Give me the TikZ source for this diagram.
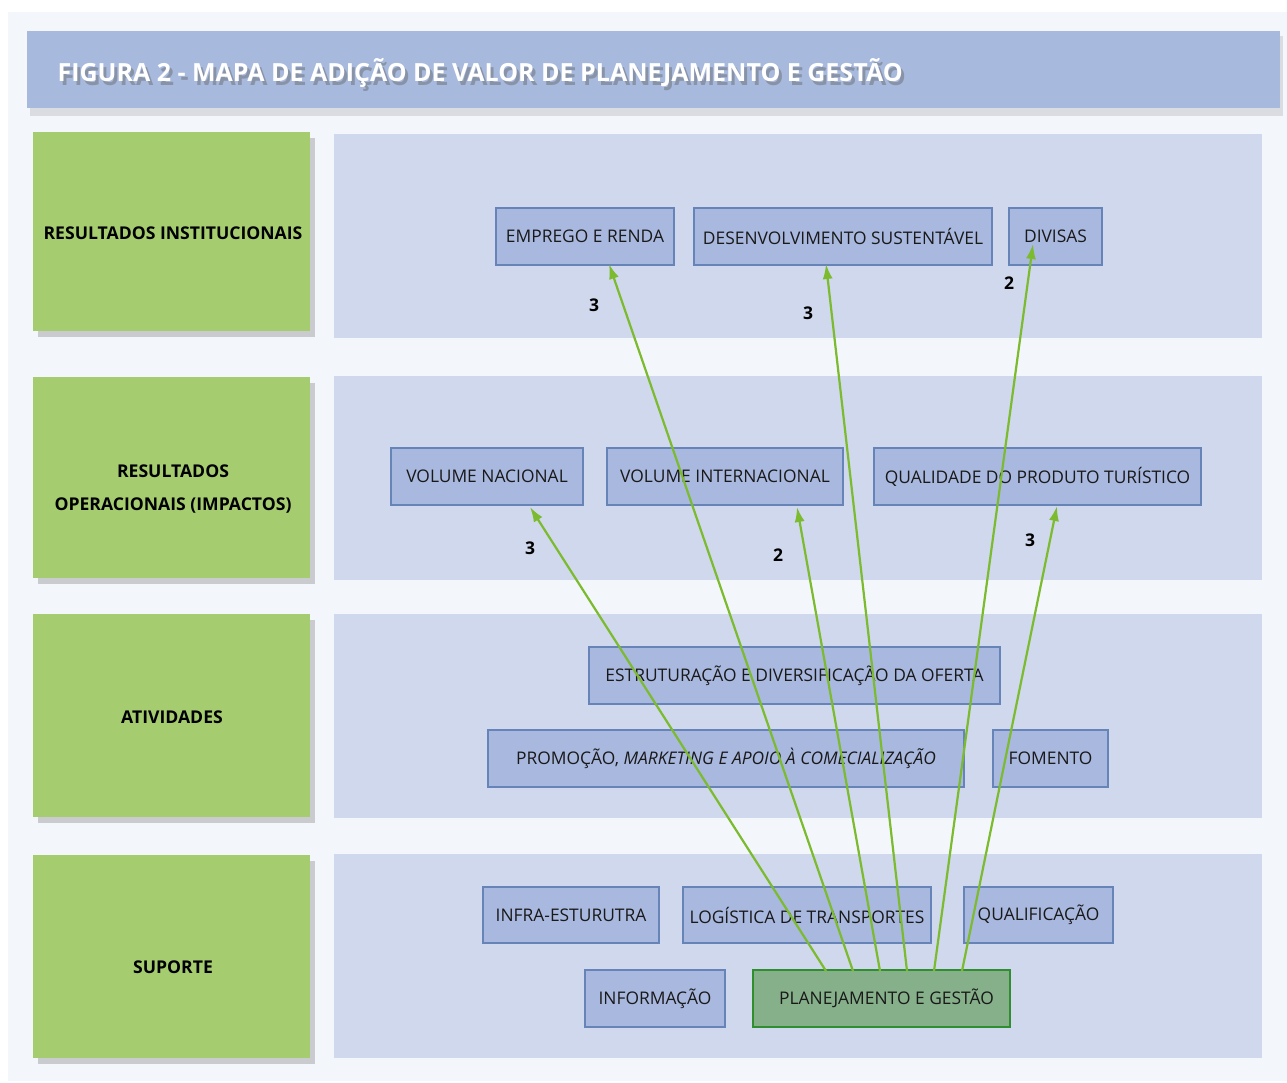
\documentclass[tikz,border=0pt]{standalone}
\usepackage{fontspec}
\setmainfont{Open Sans}
\usetikzlibrary{arrows.meta,shadows}
\definecolor{pagebg}{HTML}{F3F6FB}
\definecolor{headbg}{HTML}{A7B9DD}
\definecolor{greenbox}{HTML}{A6CC70}
\definecolor{panelbg}{HTML}{CFD8EC}
\definecolor{nodefill}{HTML}{A9B8DF}
\definecolor{nodeedge}{HTML}{6784B8}
\definecolor{planfill}{HTML}{86B08A}
\definecolor{planedge}{HTML}{2F8F2F}
\definecolor{arrowgreen}{HTML}{7CBB2E}
\tikzset{
  catbox/.style={fill=greenbox, draw=none, drop shadow={shadow xshift=5pt, shadow yshift=-6pt, opacity=0.25, fill=black!70}},
  itembox/.style={draw=nodeedge, line width=1.6pt, fill=nodefill, inner sep=0pt, font=\fontsize{17.4}{20}\selectfont, text=black!90},
  planbox/.style={itembox, draw=planedge, fill=planfill},
  catlabel/.style={font=\bfseries\fontsize{17.6}{33}\selectfont, align=center, text=black},
  numlabel/.style={font=\bfseries\fontsize{17.5}{20}\selectfont, text=black},
  link/.style={draw=arrowgreen, line width=2.2pt, -{Latex[length=15pt,width=10pt]}}
}
\begin{document}
\begin{tikzpicture}[x=1pt,y=-1pt]
\useasboundingbox (0,0) rectangle (1287,1083);
\fill[white] (0,0) rectangle (1287,1083);
\fill[pagebg] (8,12) rectangle (1287,1081);
% header
\fill[black, opacity=0.10] (30,36) rectangle (1283,116);
\fill[headbg] (27,31) rectangle (1280,108);
\node[anchor=base west, text=black!60, opacity=0.45, font=\bfseries\fontsize{25}{28}\selectfont] (titleshadow) at (57,86) {FIGURA 2 - MAPA DE ADIÇÃO DE VALOR DE PLANEJAMENTO E GESTÃO};
\node[anchor=base west, text=white, font=\bfseries\fontsize{25}{28}\selectfont] (title) at (54,82) {FIGURA 2 - MAPA DE ADIÇÃO DE VALOR DE PLANEJAMENTO E GESTÃO};
% category boxes
\path[catbox] (33,132) rectangle (310,331);
\path[catbox] (33,377) rectangle (310,578);
\path[catbox] (33,614) rectangle (310,817);
\path[catbox] (33,855) rectangle (310,1058);
\node[catlabel] (c1) at (173,233) {RESULTADOS INSTITUCIONAIS};
\node[catlabel] (c2) at (173,489) {RESULTADOS\\OPERACIONAIS (IMPACTOS)};
\node[catlabel] (c3) at (172,717) {ATIVIDADES};
\node[catlabel] (c4) at (173,967) {SUPORTE};
% panels
\fill[panelbg] (334,134) rectangle (1262,338);
\fill[panelbg] (334,376) rectangle (1262,580);
\fill[panelbg] (334,614) rectangle (1262,818);
\fill[panelbg] (334,854) rectangle (1262,1058);
% row 1
\node[itembox, minimum width=178pt, minimum height=57pt] (emp) at (585,236.5) {EMPREGO E RENDA};
\node[itembox, minimum width=298pt, minimum height=57pt] (des) at (843,236.5) {DESENVOLVIMENTO SUSTENTÁVEL};
\node[itembox, minimum width=93pt, minimum height=57pt] (div) at (1055.5,236.5) {DIVISAS};
% row 2
\node[itembox, minimum width=192pt, minimum height=57pt] (vn) at (487,476.5) {VOLUME NACIONAL};
\node[itembox, minimum width=236pt, minimum height=57pt] (vi) at (725,476.5) {VOLUME INTERNACIONAL};
\node[itembox, minimum width=327pt, minimum height=57pt] (qp) at (1037.5,476.5) {QUALIDADE DO PRODUTO TURÍSTICO};
% row 3
\node[itembox, minimum width=411pt, minimum height=57pt] (est) at (794.5,675.5) {ESTRUTURAÇÃO E DIVERSIFICAÇÃO DA OFERTA};
\node[itembox, minimum width=476pt, minimum height=57pt] (pro) at (726,758.5) {PROMOÇÃO, \textit{MARKETING E APOIO À COMECIALIZAÇÃO}};
\node[itembox, minimum width=115pt, minimum height=57pt] (fom) at (1050.5,758.5) {FOMENTO};
% row 4
\node[itembox, minimum width=176pt, minimum height=56pt] (inf) at (571,915) {INFRA-ESTURUTRA};
\node[itembox, minimum width=248pt, minimum height=56pt] (log) at (807,915) {LOGÍSTICA DE TRANSPORTES};
\node[itembox, minimum width=149pt, minimum height=56pt] (qua) at (1038.5,915) {QUALIFICAÇÃO};
\node[itembox, minimum width=140pt, minimum height=57pt] (info) at (655,998.5) {INFORMAÇÃO};
\node[planbox, minimum width=257pt, minimum height=57pt] (plan) at (881.5,998.5) {\hspace*{10pt}PLANEJAMENTO E GESTÃO};
% arrow ends
\coordinate (s1) at (826,971);
\coordinate (s2) at (853,971);
\coordinate (s3) at (880,971);
\coordinate (s4) at (907,971);
\coordinate (s5) at (934,971);
\coordinate (s6) at (962,971);
\coordinate (t1) at (530,507);
\coordinate (t2) at (609,264);
\coordinate (t3) at (797,507);
\coordinate (t4) at (826,264);
\coordinate (t5) at (1033,244);
\coordinate (t6) at (1057,506);
\draw[link] (s1) -- (t1);
\draw[link] (s2) -- (t2);
\draw[link] (s3) -- (t3);
\draw[link] (s4) -- (t4);
\draw[link] (s5) -- (t5);
\draw[link] (s6) -- (t6);
% numbers
\node[numlabel] (n1) at (594,305) {3};
\node[numlabel] (n2) at (808,313) {3};
\node[numlabel] (n3) at (1009,283) {2};
\node[numlabel] (n4) at (530,548) {3};
\node[numlabel] (n5) at (778,555) {2};
\node[numlabel] (n6) at (1030,540) {3};
\end{tikzpicture}
\end{document}
